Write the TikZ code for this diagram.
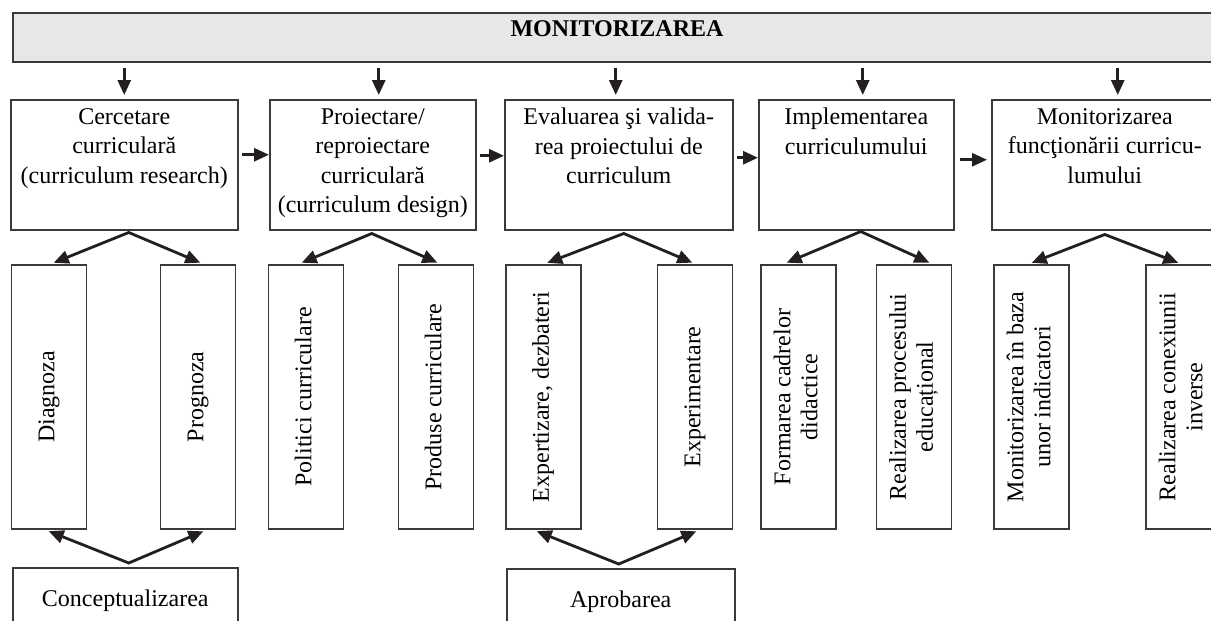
\documentclass[tikz,border=0pt]{standalone}
\usepackage{fontspec}
\usepackage{graphicx}
\setmainfont{Liberation Serif}
\usetikzlibrary{arrows.meta,positioning}
\definecolor{chenar}{HTML}{3A3A3A}
\definecolor{negru}{HTML}{231F20}
\definecolor{fundal}{HTML}{E6E7E8}
\newcommand{\verticaltext}[1]{\rotatebox{90}{\begin{tabular}{@{}c@{}}#1\end{tabular}}}
\begin{document}
\begin{tikzpicture}[x=1pt, y=-1pt, font=\fontsize{24}{29.5}\selectfont,
  etapa/.style = {draw=chenar, line width=1.5pt, minimum height=130pt, anchor=north west, inner sep=0pt},
  titlu/.style = {align=center, inner sep=0pt, anchor=north},
  ramura/.style = {draw=chenar, line width=1.5pt, minimum width=75pt, minimum height=264pt, inner sep=0pt, font=\fontsize{24}{27}\selectfont},
  baza/.style = {draw=chenar, line width=1.5pt, minimum height=66pt, anchor=north west, inner sep=0pt},
  leg/.style = {draw=negru, line width=2.8pt, -{Triangle[length=15pt,width=13pt]}},
  dublu/.style = {draw=negru, line width=2.8pt, {Triangle[length=15pt,width=13pt]}-{Triangle[length=15pt,width=13pt]}, shorten <=4pt, shorten >=4pt}]
\clip (0,0) rectangle (1211,621);

\node[draw=chenar, fill=fundal, line width=1.5pt, minimum width=1230pt, minimum height=49pt, anchor=north west, inner sep=0pt] (banda) at (12,12) {};
\node[inner sep=0pt, font=\fontsize{24}{29.5}\selectfont\bfseries] (mon) at (617,29) {MONITORIZAREA};

\node[etapa, minimum width=227pt] (e1) at (10,99) {};
\node[etapa, minimum width=206pt] (e2) at (269,99) {};
\node[etapa, minimum width=228pt] (e3) at (504,99) {};
\node[etapa, minimum width=195pt] (e4) at (758,99) {};
\node[etapa, minimum width=226pt] (e5) at (991,99) {};

\node[titlu, below=9pt of e1.north] (t1) {Cercetare\\curriculară\\(curriculum research)};
\node[titlu, below=9pt of e2.north] (t2) {Proiectare/\\reproiectare\\curriculară\\(curriculum design)};
\node[titlu, below=9pt of e3.north] (t3) {Evaluarea şi valida-\\rea proiectului de\\curriculum};
\node[titlu, below=9pt of e4.north] (t4) {Implementarea\\curriculumului};
\node[titlu, below=9pt of e5.north] (t5) {Monitorizarea\\funcţionării curricu-\\lumului};

\node[ramura] (r1) at (49,397) {\verticaltext{Diagnoza}};
\node[ramura] (r2) at (198,397) {\verticaltext{Prognoza}};
\node[ramura] (r3) at (306,397) {\verticaltext{Politici curriculare}};
\node[ramura] (r4) at (436,397) {\verticaltext{Produse curriculare}};
\node[ramura] (r5) at (543.5,397) {\verticaltext{Expertizare, dezbateri}};
\node[ramura] (r6) at (695,397) {\verticaltext{Experimentare}};
\node[ramura] (r7) at (798.5,397) {\verticaltext{Formarea cadrelor\\didactice}};
\node[ramura] (r8) at (914,397) {\verticaltext{Realizarea procesului\\educațional}};
\node[ramura] (r9) at (1031.5,397) {\verticaltext{Monitorizarea în baza\\unor indicatori}};
\node[ramura] (r10) at (1183.5,397) {\verticaltext{Realizarea conexiunii\\inverse}};

\node[baza, minimum width=225pt] (b1) at (12,567) {Conceptualizarea};
\node[baza, minimum width=228pt] (b2) at (506,568) {Aprobarea};

% sageti de la monitorizare
\draw[leg] ([yshift=-5pt]banda.south -| e1.north) -- ([yshift=4pt]e1.north);
\draw[leg] ([xshift=6pt,yshift=-5pt]banda.south -| e2.north) -- ([xshift=6pt,yshift=4pt]e2.north);
\draw[leg] ([xshift=-3pt,yshift=-5pt]banda.south -| e3.north) -- ([xshift=-3pt,yshift=4pt]e3.north);
\draw[leg] ([xshift=6.5pt,yshift=-5pt]banda.south -| e4.north) -- ([xshift=6.5pt,yshift=4pt]e4.north);
\draw[leg] ([xshift=13pt,yshift=-5pt]banda.south -| e5.north) -- ([xshift=13pt,yshift=4pt]e5.north);

% sageti intre etape
\draw[leg, shorten <=3pt] ([yshift=10pt]e1.east) -- ([yshift=10pt]e2.west);
\draw[leg, shorten <=3pt] ([yshift=9pt]e2.east) -- ([yshift=9pt]e3.west);
\draw[leg, shorten <=3pt] ([yshift=7pt]e3.east) -- ([yshift=7pt]e4.west);
\draw[leg, shorten <=5pt, shorten >=4pt] ([yshift=5pt]e4.east) -- ([yshift=5pt]e5.west);

% ramificari
\draw[dublu] ([xshift=1pt]r1.north) -- ([xshift=4.5pt,yshift=-2pt]e1.south) -- ([xshift=6pt]r2.north);
\draw[dublu] ([xshift=-8pt]r3.north) -- ([xshift=-1pt,yshift=-3pt]e2.south) -- ([xshift=5pt]r4.north);
\draw[dublu] (r5.north) -- ([xshift=5pt,yshift=-3pt]e3.south) -- ([xshift=1pt]r6.north);
\draw[dublu] ([xshift=-15.5pt]r7.north) -- ([xshift=4.5pt,yshift=-1pt]e4.south) -- ([xshift=19pt]r8.north);
\draw[dublu] ([xshift=-3.5pt]r9.north) -- ([yshift=-4pt]e5.south) -- ([xshift=-1.5pt]r10.north);

\draw[dublu] ([xshift=-4pt]r1.south) -- ([xshift=3.5pt,yshift=4pt]b1.north) -- ([xshift=9pt]r2.south);
\draw[dublu] ([xshift=-10.5pt]r5.south) -- ([xshift=-2pt,yshift=4pt]b2.north) -- ([xshift=5pt]r6.south);
\end{tikzpicture}
\end{document}
